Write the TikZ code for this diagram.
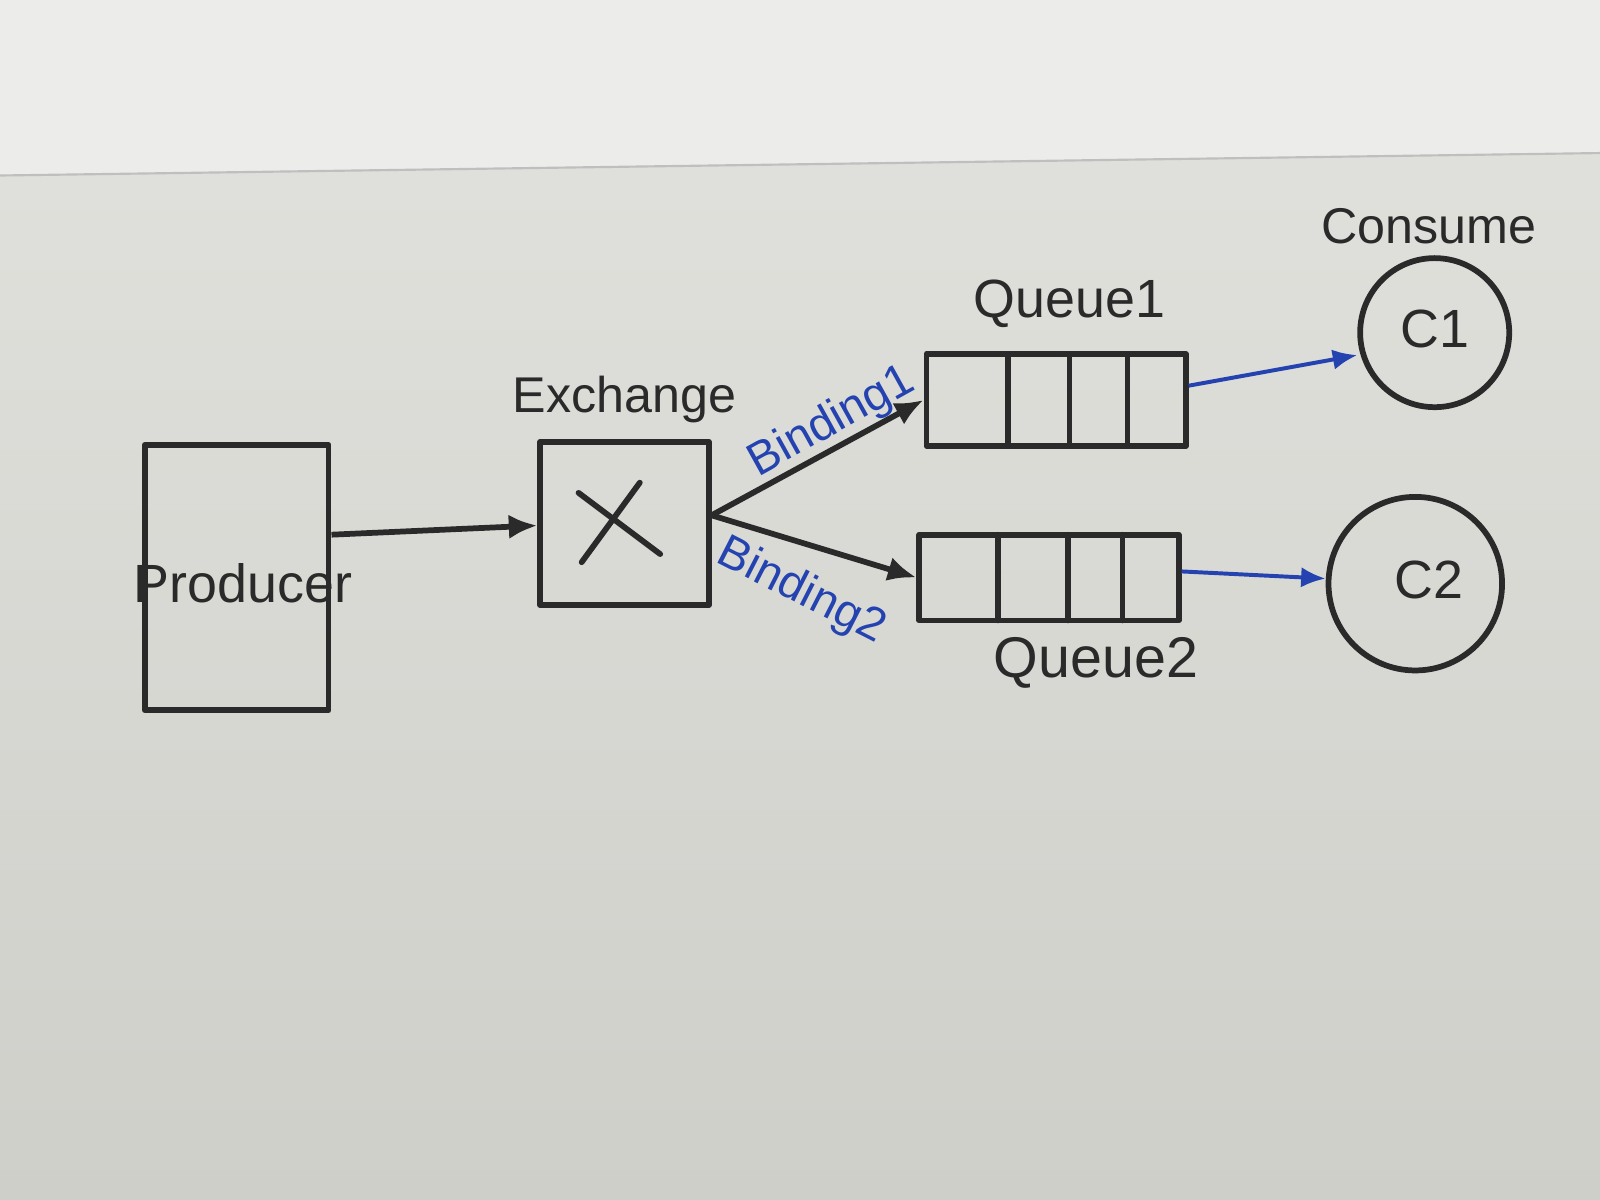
\documentclass[tikz,border=0pt]{standalone}
\usepackage{fontspec}
\setmainfont{Liberation Sans}
\usetikzlibrary{arrows.meta,calc}
\definecolor{ink}{HTML}{2A2A2A}
\definecolor{bink}{HTML}{2443B0}
\definecolor{paper}{HTML}{E2E2DE}
\definecolor{papertop}{HTML}{ECECEA}
\definecolor{paperdark}{HTML}{CFCFCA}
\begin{document}
\begin{tikzpicture}[x=0.01cm,y=-0.01cm,
  inkline/.style={draw=ink,line width=1.6pt,line cap=round,line join=round},
  boxnode/.style={inkline,rectangle,inner sep=0pt},
  ccircle/.style={inkline,circle,inner sep=0pt},
  lbl/.style={text=ink,font=\fontsize{15}{18}\selectfont,inner sep=0pt},
  blbl/.style={text=bink,font=\fontsize{13}{16}\selectfont,inner sep=0pt},
  arr/.style={draw=ink,line width=1.6pt,-{Latex[length=2.8mm,width=2.4mm]}},
  barr/.style={draw=bink,line width=1.1pt,-{Latex[length=2.4mm,width=2mm]}}]
% background
\useasboundingbox (0,0) rectangle (1568,1176);
\shade[top color=paper,bottom color=paperdark] (0,0) rectangle (1568,1176);
\fill[papertop] (0,0) -- (1568,0) -- (1568,150) -- (0,172) -- cycle;
\draw[gray!50,line width=0.6pt] (0,172) -- (1568,150);
% nodes
\node[boxnode,minimum width=1.8cm,minimum height=2.6cm] (prod) at (232,566) {};
\node[lbl] (prodl) at (238,572) {Producer};
\node[boxnode,minimum width=1.65cm,minimum height=1.6cm] (ex) at (612,513) {};
\node[lbl,font=\fontsize{14}{17}\selectfont] (exl) at (612,392) {Exchange};
\node[boxnode,minimum width=2.54cm,minimum height=0.9cm] (q1) at (1035,392) {};
\node[lbl] (q1l) at (1048,298) {Queue1};
\node[boxnode,minimum width=2.54cm,minimum height=0.84cm] (q2) at (1028,566) {};
\node[lbl,font=\fontsize{16}{19}\selectfont] (q2l) at (1074,650) {Queue2};
\node[ccircle,minimum size=1.46cm] (c1) at (1406,326) {};
\node[lbl] (c1l) at (1406,322) {C1};
\node[ccircle,minimum size=1.7cm] (c2) at (1387,572) {};
\node[lbl] (c2l) at (1400,568) {C2};
\node[lbl,font=\fontsize{14}{17}\selectfont] (cons) at (1400,222) {Consume};
% the X mark in the exchange
\draw[inkline] ($(ex.center)+(-45,-30)$) -- ($(ex.center)+(35,30)$);
\draw[inkline] ($(ex.center)+(15,-40)$) -- ($(ex.center)+(-42,38)$);
% queue dividers
\foreach \xx in {988,1048,1105} {\draw[inkline] (\xx,347) -- (\xx,437);}
\foreach \xx in {978,1047,1100} {\draw[inkline] (\xx,524) -- (\xx,608);}
% connectors
\coordinate (exr) at ($(ex.east)+(0,-8)$);
\draw[arr] (prod.east |- 0,524) -- (ex.west |- 0,515);
\draw[arr] (exr) -- (q1.west);
\draw[arr] (exr) -- (q2.west);
\draw[barr] (q1.east |- 0,378) -- (c1.west |- 0,348);
\draw[barr] (q2.east |- 0,560) -- (c2.west |- 0,567);
% binding labels
\node[blbl,rotate=29] (b1) at (815,414) {Binding1};
\node[blbl,rotate=-27] (b2) at (785,580) {Binding2};
\end{tikzpicture}
\end{document}
